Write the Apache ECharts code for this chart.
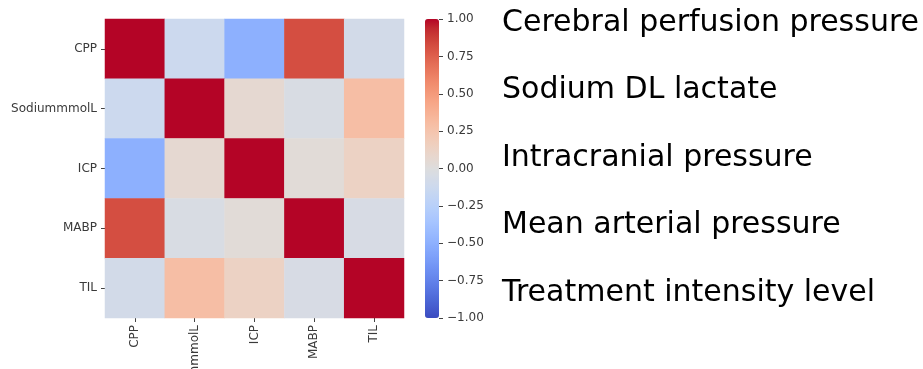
<!DOCTYPE html>
<html>
<head>
<meta charset="utf-8">
<script src="https://cdn.jsdelivr.net/npm/echarts@6/dist/echarts.min.js"></script>
<style>
html,body{margin:0;padding:0;background:#fff;}
#c{width:923px;height:369px;}
</style>
</head>
<body>
<div id="c"></div>
<script>
// ---- data ----
const variables = ['CPP', 'SodiummmolL', 'ICP', 'MABP', 'TIL'];
const rowCPP    = [1.00, -0.125, -0.50, 0.82, -0.08];
const rowSodium = [-0.125, 1.00, 0.06, -0.04, 0.29];
const rowICP    = [-0.50, 0.06, 1.00, 0.03, 0.13];
const rowMABP   = [0.82, -0.04, 0.03, 1.00, -0.05];
const rowTIL    = [-0.08, 0.29, 0.13, -0.05, 1.00];
const colorbarTicks = [-1, -0.75, -0.5, -0.25, 0, 0.25, 0.5, 0.75, 1];
const legendTexts = ['Cerebral perfusion pressure', 'Sodium DL lactate', 'Intracranial pressure', 'Mean arterial pressure', 'Treatment intensity level'];

// ---- build ----
const matrix = [rowCPP, rowSodium, rowICP, rowMABP, rowTIL];
const cells = [];
matrix.forEach((row, i) => row.forEach((v, j) => cells.push([j, i, v])));

const coolwarm = [
 [59,76,192],[68,90,204],[77,104,215],[87,117,225],[98,130,234],[108,142,241],[119,154,247],[130,165,251],
 [141,176,254],[152,185,255],[163,194,255],[174,201,253],[184,208,249],[194,213,244],[204,217,238],[213,219,230],
 [221,221,221],[229,216,209],[236,211,197],[241,204,185],[245,196,173],[247,187,160],[247,177,148],[247,166,135],
 [244,154,123],[241,141,111],[236,127,99],[229,112,88],[222,96,77],[213,80,66],[203,62,56],[192,40,47],[180,4,38]
].map(c => 'rgb(' + c.join(',') + ')');

const tickFont = {fontFamily: 'DejaVu Sans', fontSize: 12, color: '#3a3a3a'};
const GL = 105, GT = 19, GS = 299;

const chart = echarts.init(document.getElementById('c'), null, {renderer: 'canvas'});
chart.setOption({
  animation: false,
  backgroundColor: '#fff',
  grid: [
    {left: GL, top: GT, width: GS, height: GS, containLabel: false, outerBoundsMode: 'none'},
    {left: 425, top: GT, width: 14, height: GS, containLabel: false, outerBoundsMode: 'none'}
  ],
  xAxis: [
    {type: 'category', gridIndex: 0, data: variables, position: 'bottom',
     axisLine: {show: false}, splitLine: {show: false},
     axisTick: {show: true, alignWithLabel: true, length: 4, lineStyle: {color: '#444', width: 1}},
     axisLabel: Object.assign({rotate: 90, margin: 7, interval: 0, hideOverlap: false}, tickFont)},
    {type: 'category', gridIndex: 1, data: [''], show: false}
  ],
  yAxis: [
    {type: 'category', gridIndex: 0, data: variables, inverse: true,
     axisLine: {show: false}, splitLine: {show: false},
     axisTick: {show: true, alignWithLabel: true, length: 4, lineStyle: {color: '#444', width: 1}},
     axisLabel: Object.assign({margin: 8, interval: 0}, tickFont)},
    {type: 'value', gridIndex: 1, position: 'right', min: -1, max: 1, interval: 0.25,
     axisLine: {show: false}, splitLine: {show: false},
     axisTick: {show: true, length: 4, lineStyle: {color: '#444', width: 1}},
     axisLabel: Object.assign({margin: 8, formatter: v => {
        const s = v.toFixed(2); return s.charAt(0) === '-' ? '\u2212' + s.slice(1) : s; }}, tickFont)}
  ],
  visualMap: {
    type: 'continuous', min: -1, max: 1, seriesIndex: 0, calculable: false,
    left: 425, top: GT, itemWidth: 14, itemHeight: GS, padding: 0,
    text: null, showLabel: false, hoverLink: false,
    inRange: {color: coolwarm}
  },
  series: [
    {type: 'heatmap', xAxisIndex: 0, yAxisIndex: 0, data: cells,
     itemStyle: {borderWidth: 0}, emphasis: {disabled: true}},
    {type: 'scatter', xAxisIndex: 1, yAxisIndex: 1, data: [], silent: true}
  ],
  graphic: legendTexts.map((t, i) => ({
    type: 'text', x: 502, y: 23 + i * 67.5,
    style: {text: t, fontFamily: 'DejaVu Sans', fontSize: 30, fill: '#000', verticalAlign: 'middle'}
  }))
});
</script>
</body>
</html>
